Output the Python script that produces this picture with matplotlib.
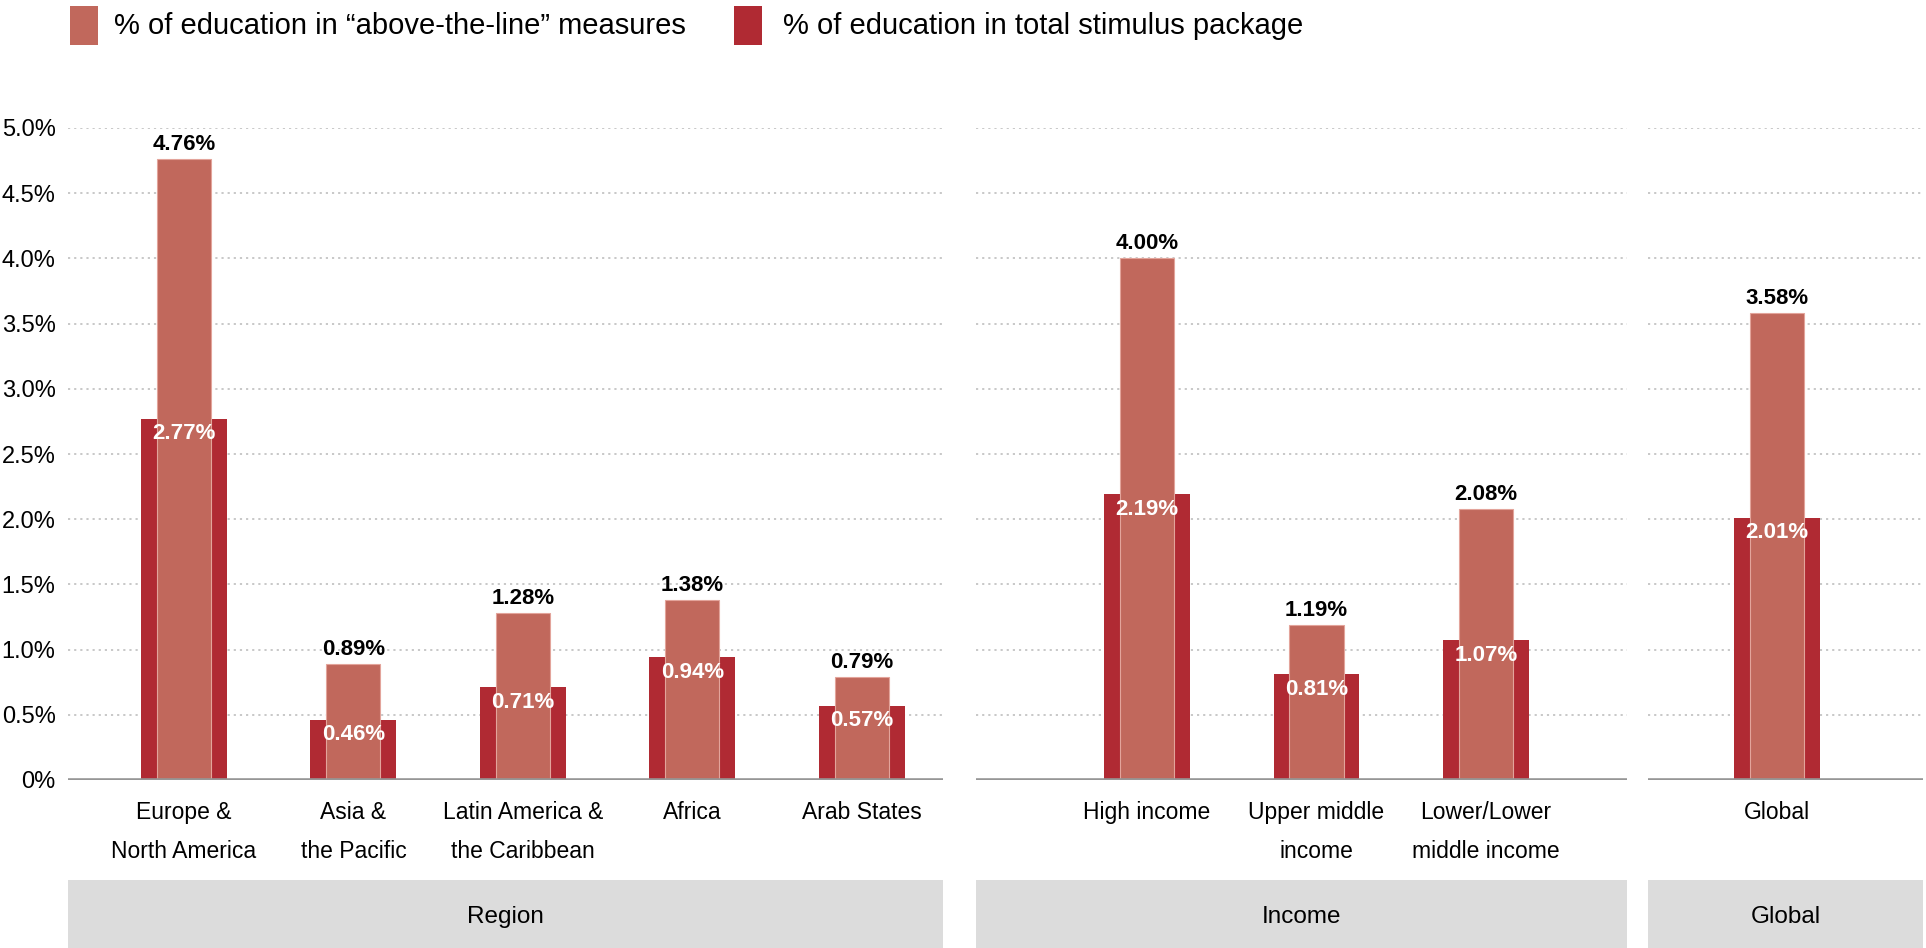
import matplotlib
matplotlib.use("Agg")
import matplotlib.pyplot as plt
from matplotlib.patches import Rectangle

# ---- data ----
region_cats = ["Europe &\nNorth America", "Asia &\nthe Pacific", "Latin America &\nthe Caribbean", "Africa", "Arab States"]
region_above = [4.76, 0.89, 1.28, 1.38, 0.79]
region_total = [2.77, 0.46, 0.71, 0.94, 0.57]

income_cats = ["High income", "Upper middle\nincome", "Lower/Lower\nmiddle income"]
income_above = [4.00, 1.19, 2.08]
income_total = [2.19, 0.81, 1.07]

global_cats = ["Global"]
global_above = [3.58]
global_total = [2.01]

group_names = ["Region", "Income", "Global"]
yticks = [0, 0.5, 1.0, 1.5, 2.0, 2.5, 3.0, 3.5, 4.0, 4.5, 5.0]
ytick_labels = ["0%", "0.5%", "1.0%", "1.5%", "2.0%", "2.5%", "3.0%", "3.5%", "4.0%", "4.5%", "5.0%"]
legend_labels = ["% of education in \u201cabove-the-line\u201d measures",
                 "% of education in total stimulus package"]

# ---- style ----
LIGHT = "#C1685C"
DARK = "#B02A33"
BOX = "#DCDCDC"
plt.rcParams['font.family'] = ["Liberation Sans", "DejaVu Sans"]

W, H = 1926, 948
fig = plt.figure(figsize=(W / 100, H / 100), dpi=100)

y0_px, ytop_px = 780, 128
bottom = 1 - y0_px / H
height = (y0_px - ytop_px) / H

panels = [
    (68, 943, -0.684, region_cats, region_above, region_total),
    (976, 1627, -1.009, income_cats, income_above, income_total),
    (1648, 1923, -0.761, global_cats, global_above, global_total),
]
unit_px = 169.5
w_dark = 0.507
w_light = 0.319

for i, (lpx, rpx, xl, cats, above, total) in enumerate(panels):
    ax = fig.add_axes([lpx / W, bottom, (rpx - lpx) / W, height])
    xr = xl + (rpx - lpx) / unit_px
    x = list(range(len(cats)))
    ax.bar(x, total, width=w_dark, color=DARK, zorder=2)
    ax.bar(x, above, width=w_light, color=LIGHT, edgecolor="#E3A49B", linewidth=0.8, zorder=3)
    for xi, a, t in zip(x, above, total):
        ax.annotate(f"{a:.2f}%", (xi, a), xytext=(0, 3), textcoords="offset points",
                    ha="center", va="bottom", fontsize=16, fontweight="bold", color="black",
                    zorder=5, annotation_clip=False)
        ax.annotate(f"{t:.2f}%", (xi, t), xytext=(0, -3), textcoords="offset points",
                    ha="center", va="top", fontsize=16, fontweight="bold", color="white", zorder=5)
    ax.set_xlim(xl, xr)
    ax.set_ylim(0, 5.0)
    ax.set_yticks(yticks)
    for yv in yticks[1:]:
        ax.axhline(yv, color="#C4C4C4", linestyle=(0, (1.2, 2.2)), linewidth=1.3, zorder=1)
    ax.axhline(0, color="#969696", linewidth=2.6, zorder=4)
    ax.set_xticks(x)
    ax.set_xticklabels(cats, fontsize=16.5, linespacing=1.9)
    ax.tick_params(axis="x", length=0, pad=15)
    if i == 0:
        ax.set_yticklabels(ytick_labels, fontsize=17)
        ax.tick_params(axis="y", length=0, pad=9)
    else:
        ax.tick_params(axis="y", length=0, labelleft=False)
    for s in ax.spines.values():
        s.set_visible(False)
    ax.set_facecolor("none")
    box_top = 1 - 880 / H
    fig.patches.append(Rectangle((lpx / W, 0), (rpx - lpx) / W, box_top,
                                 transform=fig.transFigure, facecolor=BOX, edgecolor="none"))
    fig.text((lpx + rpx) / 2 / W, box_top / 2 - 0.003, group_names[i], ha="center", va="center",
             fontsize=17.5)

# ---- legend ----
leg_items = [(70, 114, LIGHT), (734, 783, DARK)]
for (sx, tx, col), lab in zip(leg_items, legend_labels):
    fig.patches.append(Rectangle((sx / W, 1 - 45 / H), 28 / W, 39 / H,
                                 transform=fig.transFigure, facecolor=col, edgecolor="none"))
    fig.text(tx / W, 1 - 26 / H, lab, ha="left", va="center", fontsize=21)

fig.savefig("out.png", dpi=100, facecolor="white")
